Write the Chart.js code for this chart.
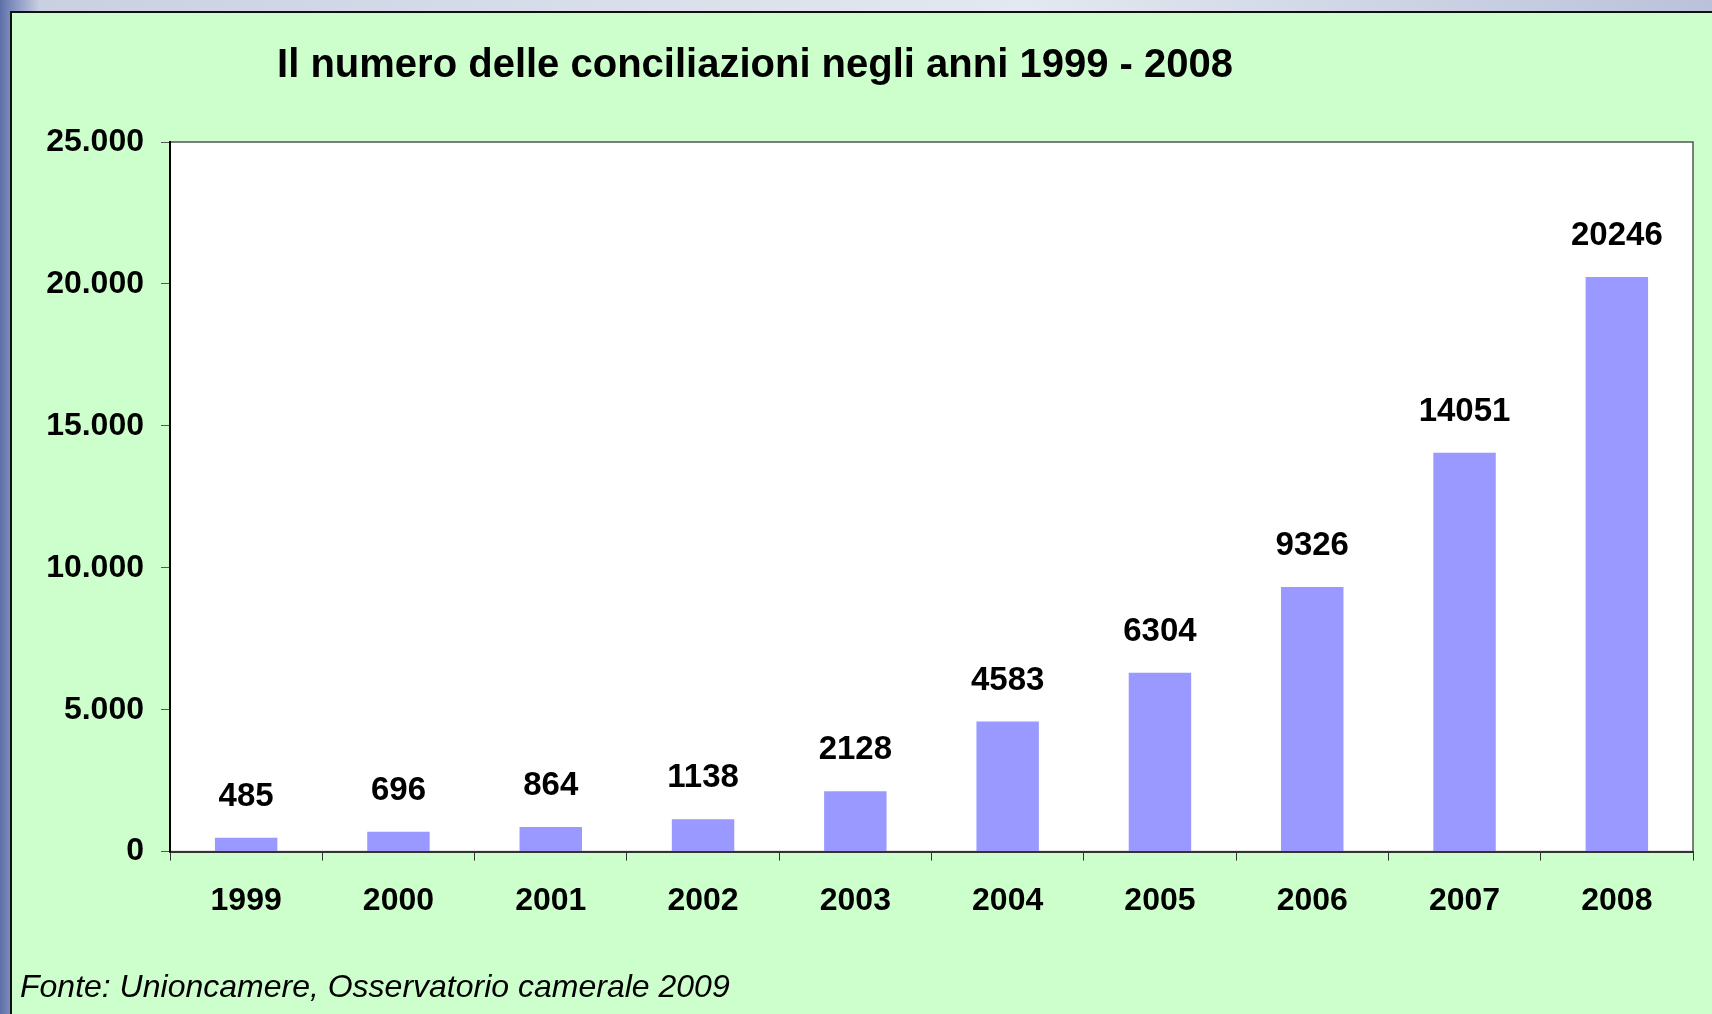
<!DOCTYPE html>
<html>
<head>
<meta charset="utf-8">
<script src="https://cdn.jsdelivr.net/npm/chart.js@4/dist/chart.umd.min.js"></script>
<style>
    html, body {
        margin: 0;
        padding: 0;
        width: 1712px;
        height: 1014px;
        overflow: hidden;
        background: linear-gradient(90deg, #5d6fa6 0px, #7a8abb 10px, #c9d0e2 40px, #e4e8f0 60%, #b9c2da 100%);
        font-family: "Liberation Sans", Arial, sans-serif;
    }
    #panel {
        position: absolute;
        left: 10px;
        top: 11px;
        width: 1702px;
        height: 1003px;
        background: #ccffcc;
        border-left: 2px solid #111;
        border-top: 2px solid #111;
        box-sizing: border-box;
    }
    #title {
        position: absolute;
        left: 0;
        top: 41px;
        width: 1510px;
        text-align: center;
        font-weight: bold;
        font-size: 40px;
        color: #000;
    }
    canvas { position: absolute; left: 0; top: 0; }
</style>
</head>
<body>
<div id="panel">
    <canvas id="chart" width="1700" height="1001"></canvas>
</div>
<div id="title">Il numero delle conciliazioni negli anni 1999 - 2008</div>
<script>
    // data
    const years = ['1999', '2000', '2001', '2002', '2003', '2004', '2005', '2006', '2007', '2008'];
    const conciliazioni = [485, 696, 864, 1138, 2128, 4583, 6304, 9326, 14051, 20246];
    const yTicks = [0, 5000, 10000, 15000, 20000, 25000];
    const source = 'Fonte: Unioncamere, Osservatorio camerale 2009';

    const font = '"Liberation Sans", Arial, sans-serif';

    function fmtThousands(v) {
        return String(v).replace(/\B(?=(\d{3})+(?!\d))/g, '.');
    }

    // white plot area with a thin frame
    const plotFrame = {
        id: 'plotFrame',
        beforeDraw(chart) {
            const a = chart.chartArea;
            const ctx = chart.ctx;
            ctx.save();
            ctx.fillStyle = '#ffffff';
            ctx.fillRect(a.left, a.top, a.right - a.left, a.bottom - a.top);
            ctx.strokeStyle = '#555555';
            ctx.lineWidth = 1.5;
            ctx.strokeRect(a.left, a.top, a.right - a.left, a.bottom - a.top);
            ctx.restore();
        }
    };

    // value labels above the bars
    const barValues = {
        id: 'barValues',
        afterDatasetsDraw(chart) {
            const ctx = chart.ctx;
            const meta = chart.getDatasetMeta(0);
            ctx.save();
            ctx.font = 'bold 33px ' + font;
            ctx.fillStyle = '#000';
            ctx.textAlign = 'center';
            ctx.textBaseline = 'alphabetic';
            meta.data.forEach(function(bar, i) {
                ctx.fillText(String(conciliazioni[i]), bar.x, bar.y - 32);
            });
            ctx.restore();
        }
    };

    new Chart(document.getElementById('chart'), {
        type: 'bar',
        data: {
            labels: years,
            datasets: [{
                data: conciliazioni,
                backgroundColor: '#9999ff',
                borderWidth: 0,
                categoryPercentage: 1,
                barPercentage: 0.41
            }]
        },
        options: {
            responsive: false,
            animation: false,
            layout: {
                padding: { left: 8, right: 19, top: 129, bottom: 0 }
            },
            plugins: {
                legend: { display: false },
                tooltip: { enabled: false },
                subtitle: {
                    display: true,
                    text: source,
                    position: 'bottom',
                    align: 'start',
                    color: '#000',
                    font: { family: font, size: 32, style: 'italic', weight: 'normal' },
                    padding: { top: 15, bottom: 7 }
                }
            },
            scales: {
                x: {
                    grid: {
                        display: true,
                        drawOnChartArea: false,
                        tickLength: 9,
                        color: '#333'
                    },
                    border: { color: '#333', width: 2 },
                    ticks: {
                        color: '#000',
                        padding: 21,
                        font: { family: font, size: 32, weight: 'bold' }
                    },
                    afterFit(scale) { scale.height = 102; }
                },
                y: {
                    min: 0,
                    max: 25000,
                    afterBuildTicks(scale) {
                        scale.ticks = yTicks.map(function(v) { return { value: v }; });
                    },
                    grid: {
                        display: true,
                        drawOnChartArea: false,
                        tickLength: 9,
                        color: '#555'
                    },
                    border: { color: '#000', width: 2 },
                    ticks: {
                        color: '#000',
                        padding: 17,
                        font: { family: font, size: 32, weight: 'bold' },
                        callback: function(v) { return fmtThousands(v); }
                    },
                    afterFit(scale) { scale.width = 150; }
                }
            }
        },
        plugins: [plotFrame, barValues]
    });
</script>
</body>
</html>
